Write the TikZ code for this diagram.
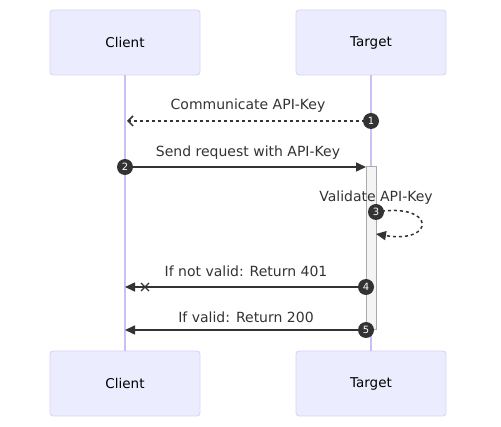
\documentclass[tikz,border=0pt]{standalone}
\usepackage{fontspec}
\setmainfont{DejaVu Sans}
\usetikzlibrary{arrows.meta}
\definecolor{actfill}{HTML}{ECECFF}
\definecolor{actline}{HTML}{D9D0F7}
\definecolor{lifecol}{HTML}{CDBFF5}
\definecolor{msgcol}{HTML}{333333}
\definecolor{barfill}{HTML}{F4F4F4}
\definecolor{barline}{HTML}{AAAAAA}
\tikzset{
  actor/.style={draw=actline, fill=actfill, rounded corners=3pt, minimum width=150pt, minimum height=65pt, line width=0.8pt, font=\fontsize{13.5pt}{15pt}\selectfont, text=black, inner sep=0pt},
  lifeline/.style={draw=lifecol, line width=1.2pt},
  msg/.style={draw=msgcol, line width=1.5pt},
  msgtext/.style={font=\fontsize{14pt}{16pt}\selectfont, text=msgcol, inner sep=0pt},
  num/.style={circle, fill=msgcol, text=white, minimum size=16pt, inner sep=0pt, font=\fontsize{10pt}{11pt}\selectfont},
  filledtip/.style={-{Triangle[length=10pt,width=9pt]}},
  opentip/.style={-{Straight Barb[length=5pt,width=10pt,line width=1.5pt]}},
  actbar/.style={draw=barline, fill=barfill, line width=1pt, minimum width=10pt, inner sep=0pt}
}
\begin{document}
\begin{tikzpicture}[x=1pt,y=-1pt]
\useasboundingbox (0,0) rectangle (501,427);
% actors
\node[actor] (ct) at (125,42.5) {Client};
\node[actor] (tt) at (371,42.5) {Target};
\node[actor] (cb) at (125,383.5) {Client};
\node[actor] (tb) at (371,383.5) {Target};
% lifelines
\draw[lifeline] (ct.south) -- (cb.north);
\draw[lifeline] (tt.south) -- (tb.north);
% activation bar
\node[actbar, minimum height=163pt] (bar) at (371,248.5) {};
% coordinates
\coordinate (c1) at (125,121); \coordinate (t1) at (371,121);
\coordinate (c2) at (125,167); \coordinate (t2) at (366,167);
\coordinate (s3a) at (376,212); \coordinate (s3b) at (376,234);
\coordinate (c4) at (125,287); \coordinate (t4) at (366,287);
\coordinate (x4) at (145,287);
\coordinate (c5) at (125,330); \coordinate (t5) at (366,330);
% message 1
\draw[msg, dash pattern=on 3pt off 3pt, opentip] (t1) -- ([xshift=2pt]c1);
\node[msgtext, anchor=base] (l1) at (248,110) {Communicate API-Key};
\node[num] (n1) at (t1) {1};
% message 2
\draw[msg, filledtip] (c2) -- (t2);
\node[msgtext, anchor=base] (l2) at (248,157) {Send request with API-Key};
\node[num] (n2) at (c2) {2};
% message 3 self
\draw[msg, dash pattern=on 3pt off 3pt, filledtip] (s3a) .. controls (436,202) and (436,244) .. (s3b);
\node[msgtext, anchor=base] (l3) at (376,202) {Validate API-Key};
\node[num] (n3) at (s3a) {3};
% message 4
\draw[msg, filledtip] (t4) -- (c4);
\draw[msg, line width=1.2pt] ([shift={(-4,-4)}]x4) -- ([shift={(4,4)}]x4) ([shift={(-4,4)}]x4) -- ([shift={(4,-4)}]x4);
\node[msgtext, anchor=base] (l4) at (246,277) {If not valid: Return 401};
\node[num] (n4) at (t4) {4};
% message 5
\draw[msg, filledtip] (t5) -- (c5);
\node[msgtext, anchor=base] (l5) at (246,323) {If valid: Return 200};
\node[num] (n5) at (t5) {5};
\end{tikzpicture}
\end{document}
